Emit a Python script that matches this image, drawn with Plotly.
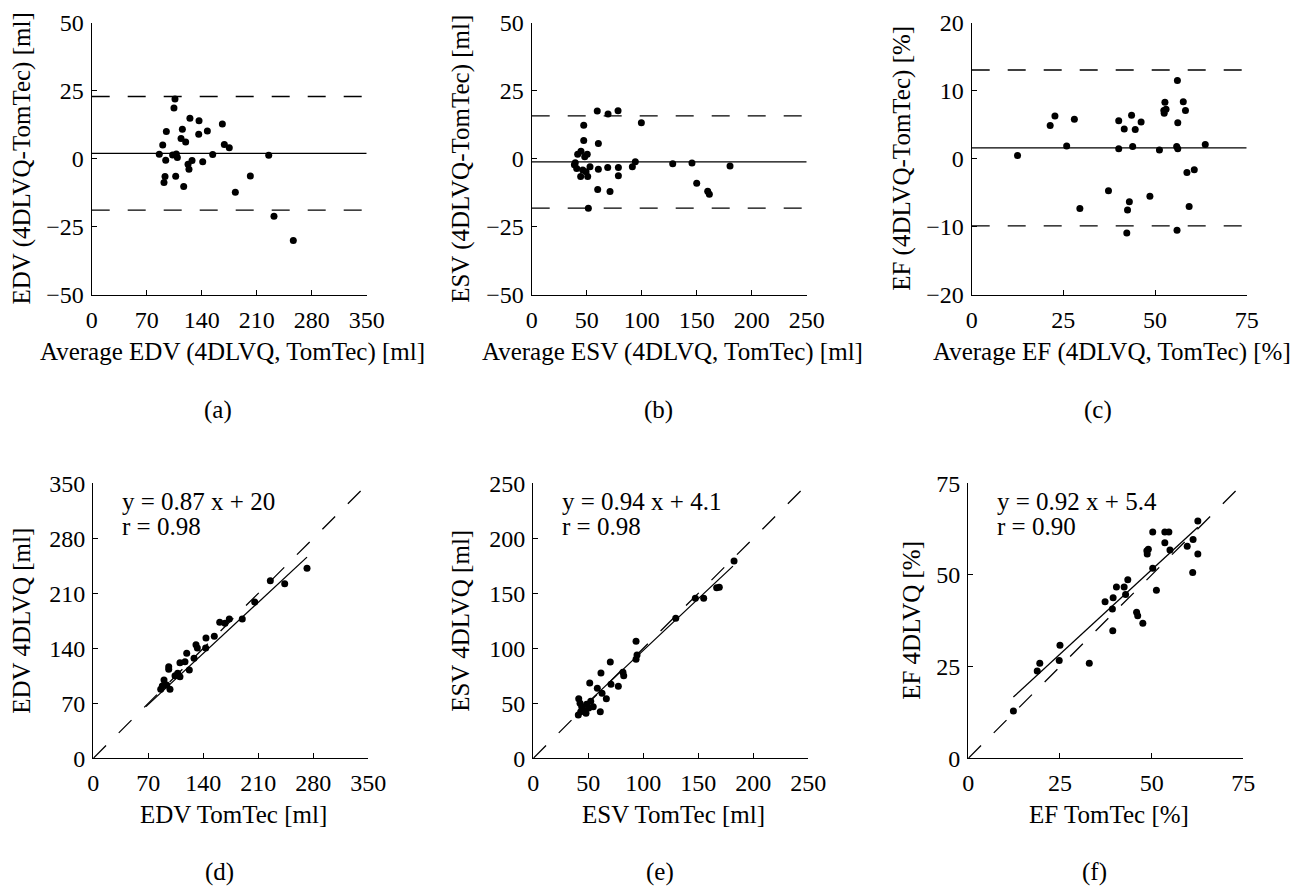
import plotly.graph_objects as go

W, H = 1304, 886
OFF = 8  # the page places the figure 8 px from the window's top-left corner

# ---------------- data ----------------
# (a) EDV Bland-Altman
edv_avg = [106, 104.7, 125, 136.6, 166.3, 95, 115.4, 147.2, 136.2, 113.7, 119.6, 90.4, 168.8, 175.1,
           86, 103, 107.7, 109, 154, 225.3, 94.2, 127.7, 122.6, 141.3, 123.8, 93.3, 92, 106.9,
           117.1, 201.9, 182.8, 232, 256.6]
edv_diff = [22.0, 18.7, 14.9, 14.0, 12.8, 10.0, 10.9, 10.2, 9.0, 7.5, 6.2, 5.1, 5.3, 4.1,
            1.7, 1.4, 1.8, 0.5, 1.6, 1.3, -0.5, -0.6, -2.0, -1.1, -3.8, -6.5, -8.7, -6.4,
            -10.2, -6.3, -12.3, -21.1, -30.0]
edv_bias, edv_upper, edv_lower = 2.0, 22.9, -18.8

# (b) ESV Bland-Altman
esv_avg = [59.6, 69.4, 78.5, 99.7, 47.3, 47.3, 60.6, 44.8, 41.8, 50.5, 48.2, 38.8, 40.9, 44.5,
           50.9, 46.4, 53, 49.4, 60.6, 69.1, 78.8, 78.8, 60, 71.2, 51.5, 91.5, 94.2, 128.2,
           145.7, 180.3, 150, 160, 161.5, 39.6]
esv_diff = [17.6, 16.5, 17.7, 13.3, 12.3, 6.7, 5.6, 2.8, 1.7, 1.7, 0.8, -2.2, -3.5, -6.5,
            -6.5, -4.1, -2.9, -4.7, -3.8, -3.2, -3.2, -6.2, -11.3, -12.0, -18.1, -2.9, -1.1, -1.8,
            -1.5, -2.6, -9.0, -11.9, -13.0, -1.4]
esv_bias, esv_upper, esv_lower = -1.1, 15.8, -18.1

# (c) EF Bland-Altman
ef_avg = [12.5, 21.4, 22.7, 28.0, 25.9, 29.5, 37.3, 40.1, 41.6, 43.6, 44.6, 46.2, 40.1, 43.9,
          43.0, 42.5, 42.3, 48.6, 51.2, 52.7, 52.4, 53.0, 52.5, 56.1, 57.7, 58.3, 56.2, 55.9,
          56.2, 63.7, 58.7, 60.7, 59.3, 56.0]
ef_diff = [0.5, 4.9, 6.3, 5.8, 1.9, -7.3, -4.7, 5.6, 4.4, 6.4, 4.3, 5.4, 1.5, 1.8,
           -6.3, -7.5, -10.9, -5.5, 1.3, 8.3, 7.1, 7.3, 6.7, 11.5, 8.4, 7.1, 5.3, 1.8,
           1.5, 2.1, -2.0, -1.6, -7.0, -10.5]
ef_bias, ef_upper, ef_lower = 1.6, 13.05, -9.85

# (d) EDV correlation
edv_tomtec = [272, 225.3, 243.6, 205.4, 189.6, 173.1, 160.9, 167.6, 154, 143.4, 143, 130.7, 132.4, 118.9,
              128.2, 122.2, 110.3, 116.7, 96, 96, 104, 110.3, 107.4, 90, 93.4, 85.8, 97.6, 87.8]
edv_4dlvq = [241.8, 226, 222.2, 199, 177.3, 177.3, 173.1, 171.8, 155.3, 153.1, 140.4, 144.6, 140.4, 133.6,
             127.3, 112.4, 121.7, 123, 116.6, 113.3, 105.1, 103.9, 108.2, 99.7, 93.3, 87.8, 87.8, 92]
edv_fit_text = ("y = 0.87 x + 20", "r = 0.98")
edv_line_slope, edv_line_icpt, edv_line_x = 0.928, 3.6, [67, 272]

# (e) ESV correlation
esv_tomtec = [182.5, 147.3, 154.9, 166.7, 169.1, 129.5, 93.4, 94.3, 93.4, 70, 61.5, 81.5, 82.2, 51.3,
              70.6, 77.3, 58.2, 62.5, 66.4, 41.3, 52.2, 48.5, 44, 54.5, 45.5, 40.9, 60.9, 47.9,
              43.1, 50.4, 42.5]
esv_4dlvq = [179.4, 145.5, 145.5, 155.1, 155.4, 127.3, 106.4, 93.9, 90, 87.5, 77.5, 78.2, 75.1, 68.5,
             67.3, 65.5, 63.6, 59.1, 54.2, 54.2, 51.8, 49.1, 46.9, 46.9, 43.9, 39.4, 42.4, 40.9,
             42.4, 45.7, 50]
esv_fit_text = ("y = 0.94 x + 4.1", "r = 0.98")
esv_line_slope, esv_line_icpt, esv_line_x = 0.94, 4.1, [41, 181.5]

# (f) EF correlation
ef_tomtec = [12.3, 18.8, 19.5, 24.8, 25, 33, 37.3, 39.5, 39.3, 39.4, 40.4, 42.5, 43.5, 42.9,
             45.9, 46.2, 47.6, 50.3, 51.3, 50.3, 48.7, 49.1, 48.8, 53.6, 54.7, 53.6, 55, 59.7,
             61.3, 62.6, 62.6, 61.2]
ef_4dlvq = [12.9, 23.8, 25.9, 26.7, 30.8, 25.9, 42.7, 43.8, 40.7, 34.8, 46.7, 46.7, 48.7, 44.7,
            39.8, 38.9, 36.8, 51.8, 45.8, 61.7, 56.6, 57, 55.7, 61.7, 61.7, 58.8, 56.8, 57.8,
            59.7, 64.7, 55.7, 50.7]
ef_fit_text = ("y = 0.92 x + 5.4", "r = 0.90")
ef_line_slope, ef_line_icpt, ef_line_x = 0.92, 5.4, [12.3, 62.6]

# axis ticks
ticks_edv = [0, 70, 140, 210, 280, 350]
ticks_esv = [0, 50, 100, 150, 200, 250]
ticks_ef = [0, 25, 50, 75]
ticks_vol_diff = [-50, -25, 0, 25, 50]
ticks_ef_diff = [-20, -10, 0, 10, 20]

# ---------------- layout helpers ----------------
FONT = "Liberation Serif, Times New Roman, Times, serif"
TICK_SIZE = 24
TITLE_SIZE = 25


def fx(p):
    return (p - OFF) / W


def fy(p):
    return 1 - (p - OFF) / H


panels = [
    dict(xpx=(91.7, 366.7), ypx=(22.7, 295.0), xt=ticks_edv, yt=ticks_vol_diff,
         xtitle="Average EDV (4DLVQ, TomTec) [ml]", ytitle="EDV (4DLVQ-TomTec) [ml]", ytx=21.7, lab="(a)"),
    dict(xpx=(531.7, 806.7), ypx=(22.7, 295.0), xt=ticks_esv, yt=ticks_vol_diff,
         xtitle="Average ESV (4DLVQ, TomTec) [ml]", ytitle="ESV (4DLVQ-TomTec) [ml]", ytx=461, lab="(b)"),
    dict(xpx=(971.7, 1246.7), ypx=(22.7, 295.0), xt=ticks_ef, yt=ticks_ef_diff,
         xtitle="Average EF (4DLVQ, TomTec) [%]", ytitle="EF (4DLVQ-TomTec) [%]", ytx=902, lab="(c)"),
    dict(xpx=(93.3, 368.3), ypx=(483.3, 758.3), xt=ticks_edv, yt=ticks_edv,
         xtitle="EDV TomTec [ml]", ytitle="EDV 4DLVQ [ml]", ytx=22, lab="(d)"),
    dict(xpx=(533.3, 808.3), ypx=(483.3, 758.3), xt=ticks_esv, yt=ticks_esv,
         xtitle="ESV TomTec [ml]", ytitle="ESV 4DLVQ [ml]", ytx=461, lab="(e)"),
    dict(xpx=(968.3, 1243.3), ypx=(483.3, 758.3), xt=ticks_ef, yt=ticks_ef,
         xtitle="EF TomTec [%]", ytitle="EF 4DLVQ [%]", ytx=912, lab="(f)"),
]

fig = go.Figure()
layout = dict(width=W, height=H, margin=dict(l=0, r=0, t=0, b=0, pad=0, autoexpand=False),
              paper_bgcolor="white", plot_bgcolor="white", showlegend=False,
              font=dict(family=FONT, size=TICK_SIZE, color="black"))
annotations = []

for i, p in enumerate(panels):
    n = "" if i == 0 else str(i + 1)
    xa = dict(domain=[fx(p["xpx"][0]), fx(p["xpx"][1])], anchor="y" + n,
              range=[p["xt"][0], p["xt"][-1]], tickvals=p["xt"],
              showline=True, linecolor="black", linewidth=1.3, mirror=False,
              ticks="inside", ticklen=5, tickwidth=1, tickcolor="black",
              showgrid=False, zeroline=False, ticklabelstandoff=3, automargin=False,
              tickfont=dict(family=FONT, size=TICK_SIZE, color="black"))
    ya = dict(domain=[fy(p["ypx"][1]), fy(p["ypx"][0])], anchor="x" + n,
              range=[p["yt"][0], p["yt"][-1]], tickvals=p["yt"],
              showline=True, linecolor="black", linewidth=1.3, mirror=False,
              ticks="inside", ticklen=5, tickwidth=1, tickcolor="black",
              showgrid=False, zeroline=False, ticklabelstandoff=2, automargin=False,
              tickfont=dict(family=FONT, size=TICK_SIZE, color="black"))
    layout["xaxis" + n] = xa
    layout["yaxis" + n] = ya
    top_row = i < 3
    xt_y = 352 if top_row else 814
    annotations.append(dict(text=p["xtitle"], xref="paper", yref="paper",
                            x=fx((p["xpx"][0] + p["xpx"][1]) / 2 + 3), y=fy(xt_y),
                            xanchor="center", yanchor="middle", showarrow=False,
                            font=dict(family=FONT, size=TITLE_SIZE, color="black")))
    annotations.append(dict(text=p["ytitle"], xref="paper", yref="paper",
                            x=fx(p["ytx"]), y=fy((p["ypx"][0] + p["ypx"][1]) / 2),
                            xanchor="center", yanchor="middle", textangle=-90, showarrow=False,
                            font=dict(family=FONT, size=TITLE_SIZE, color="black")))
    lab_y = 410 if top_row else 872
    annotations.append(dict(text=p["lab"], xref="paper", yref="paper",
                            x=fx((p["xpx"][0] + p["xpx"][1]) / 2 - 11), y=fy(lab_y),
                            xanchor="center", yanchor="middle", showarrow=False,
                            font=dict(family=FONT, size=TITLE_SIZE, color="black")))

LINE_W = 1.3
DASH = "18px,18px"
MARK = dict(color="black", size=7)

# Bland-Altman panels
ba = [(edv_avg, edv_diff, edv_bias, edv_upper, edv_lower, ticks_edv),
      (esv_avg, esv_diff, esv_bias, esv_upper, esv_lower, ticks_esv),
      (ef_avg, ef_diff, ef_bias, ef_upper, ef_lower, ticks_ef)]
for i, (xv, yv, bias, up, lo, xt) in enumerate(ba):
    n = "" if i == 0 else str(i + 1)
    xr = [xt[0], xt[-1]]
    for val, dash in ((up, DASH), (lo, DASH), (bias, "solid")):
        fig.add_trace(go.Scatter(x=xr, y=[val, val], mode="lines",
                                 line=dict(color="black", width=LINE_W, dash=dash),
                                 xaxis="x" + n, yaxis="y" + n, hoverinfo="skip"))
    fig.add_trace(go.Scatter(x=xv, y=yv, mode="markers", marker=MARK,
                             xaxis="x" + n, yaxis="y" + n))

# correlation panels
cor = [(edv_tomtec, edv_4dlvq, edv_fit_text, edv_line_slope, edv_line_icpt, edv_line_x, ticks_edv),
       (esv_tomtec, esv_4dlvq, esv_fit_text, esv_line_slope, esv_line_icpt, esv_line_x, ticks_esv),
       (ef_tomtec, ef_4dlvq, ef_fit_text, ef_line_slope, ef_line_icpt, ef_line_x, ticks_ef)]
for k, (xv, yv, txt, m, b, lx, t) in enumerate(cor):
    n = str(k + 4)
    fig.add_trace(go.Scatter(x=[t[0], t[-1]], y=[t[0], t[-1]], mode="lines",
                             line=dict(color="black", width=LINE_W, dash=DASH),
                             xaxis="x" + n, yaxis="y" + n, hoverinfo="skip"))
    fig.add_trace(go.Scatter(x=lx, y=[m * lx[0] + b, m * lx[1] + b], mode="lines",
                             line=dict(color="black", width=LINE_W),
                             xaxis="x" + n, yaxis="y" + n, hoverinfo="skip"))
    fig.add_trace(go.Scatter(x=xv, y=yv, mode="markers", marker=MARK,
                             xaxis="x" + n, yaxis="y" + n))
    p = panels[k + 3]
    left = p["xpx"][0] + 27
    for line_txt, ypos in zip(txt, (501.7, 526.7)):
        annotations.append(dict(text=line_txt, xref="paper", yref="paper",
                                x=fx(left), y=fy(ypos), xanchor="left", yanchor="middle",
                                showarrow=False,
                                font=dict(family=FONT, size=TITLE_SIZE, color="black")))

layout["annotations"] = annotations
fig.update_layout(**layout)
fig.write_html("out.html")
